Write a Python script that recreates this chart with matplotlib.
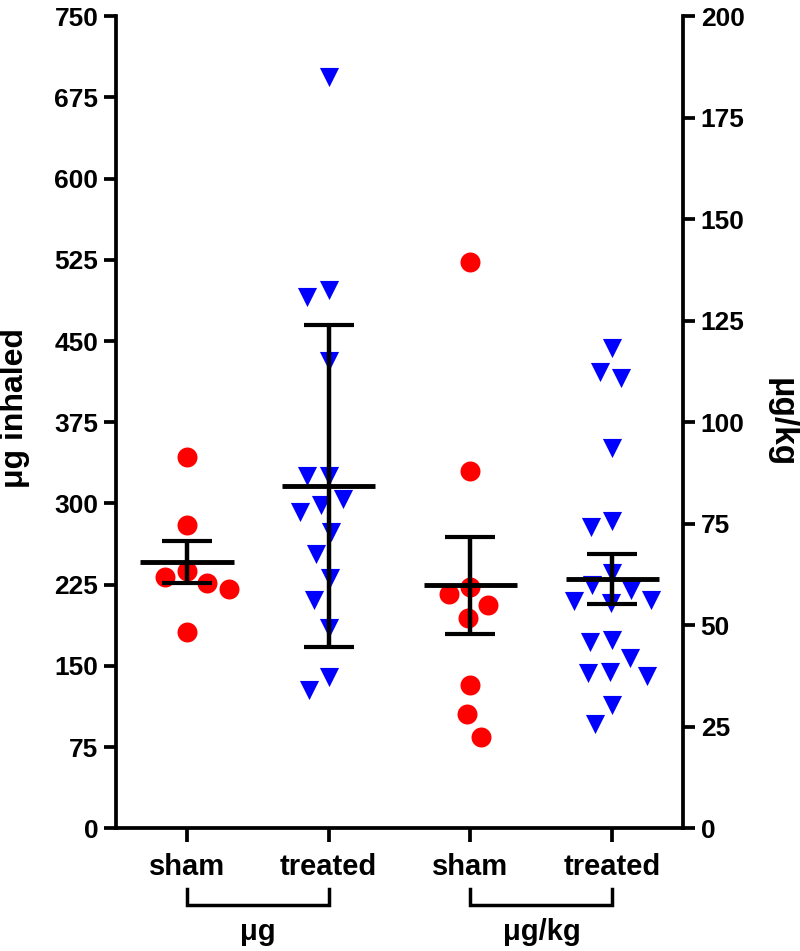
"""Dot plot of inhaled dose: sham vs treated, in ug (left axis) and ug/kg (right axis)."""

import matplotlib

matplotlib.use("Agg")
import matplotlib.pyplot as plt
import numpy as np

plt.rcParams["font.family"] = ["Liberation Sans", "DejaVu Sans"]
plt.rcParams["font.weight"] = "bold"

# Values
SHAM_UG = [343, 280, 238, 232, 227, 221, 181]
TREATED_UG = [694, 497, 491, 432, 325, 325, 304, 299, 292, 274, 253, 231,
              211, 185, 140, 128]
SHAM_UGKG = [139.4, 87.9, 59.5, 57.6, 54.9, 51.8, 35.4, 28.1, 22.4]
TREATED_UGKG = [118.4, 112.3, 110.8, 93.7, 75.6, 74.2, 62.9, 60, 58.8, 56.3,
                55.9, 55.5, 46.4, 46.0, 41.9, 38.6, 38.2, 37.4, 30.4, 25.8]

# mean line and error bar half-length, as drawn
MEANS = [246, 316, 59.8, 61.4]
ERRORS = [19.6, 148.5, 12.0, 6.15]

GROUP_LABELS = ["sham", "treated", "sham", "treated"]
UNIT_LABELS = ["\u03bcg", "\u03bcg/kg"]
LEFT_TICKS = np.arange(0, 751, 75)
RIGHT_TICKS = np.arange(0, 201, 25)


def swarm_x(ax, xc, values, dia_x, dia_y):
    """Greedy beeswarm in display pixels (elliptical footprint).

    Returns the x positions in data units.
    """
    values = np.asarray(values, dtype=float)
    ys = ax.transData.transform(
        np.column_stack([np.full(len(values), xc), values]))[:, 1]
    x0 = ax.transData.transform((xc, 0))[0]
    dxs = np.zeros(len(values))
    placed = []
    for i in np.argsort(values)[::-1]:
        y = ys[i]
        forbidden = []
        for dx, yp in placed:
            dy = abs(y - yp) * dia_x / dia_y
            if dy < dia_x:
                half = np.sqrt(dia_x ** 2 - dy ** 2)
                forbidden.append((dx - half, dx + half))
        cands = [0.0] + [a for a, _ in forbidden] + [b for _, b in forbidden]
        ok = [c for c in cands
              if all(not (a + 1e-6 < c < b - 1e-6) for a, b in forbidden)]
        best = min(ok, key=abs)
        dxs[i] = best
        placed.append((best, y))
    inv = ax.transData.inverted()
    return inv.transform(np.column_stack([x0 + dxs, ys]))[:, 0]


fig = plt.figure(figsize=(8, 9.51), dpi=100, facecolor="w")
ax = fig.add_axes([0.145, 0.129, 0.709, 0.854])
ax2 = ax.twinx()

ax.set_xlim(-0.5, 3.5)
ax.set_ylim(0, 750)
ax2.set_ylim(0, 200)
ax.set_yticks(LEFT_TICKS)
ax2.set_yticks(RIGHT_TICKS)
ax.set_xticks(range(len(GROUP_LABELS)))
ax.set_xticklabels(GROUP_LABELS)

for a in (ax, ax2):
    a.spines["top"].set_visible(False)
    for s in a.spines.values():
        s.set_linewidth(2.7)
ax.spines["right"].set_visible(False)
ax2.spines["left"].set_visible(False)
ax2.spines["bottom"].set_visible(False)

ax.tick_params(axis="y", direction="out", length=8.6, width=2.7,
               labelsize=19, pad=4)
ax2.tick_params(axis="y", direction="out", length=8.6, width=2.7,
                labelsize=19, pad=4)
ax.tick_params(axis="x", direction="out", length=10, width=2.7,
               labelsize=21, pad=8)

groups = [(ax, SHAM_UG, "o", "#ff0000", 207),
          (ax, TREATED_UG, "v", "#0000ff", 190),
          (ax2, SHAM_UGKG, "o", "#ff0000", 207),
          (ax2, TREATED_UGKG, "v", "#0000ff", 190)]

for i, (a, vals, mk, col, size) in enumerate(groups):
    xs = swarm_x(a, i, vals, 22, 30)
    a.scatter(xs, vals, marker=mk, s=size, color=col, linewidths=0, zorder=2)
    a.hlines(MEANS[i], i - 0.33, i + 0.33, color="k", lw=3.5, zorder=3)
    a.errorbar(i, MEANS[i], yerr=ERRORS[i], fmt="none", ecolor="k",
               elinewidth=3.2, capsize=18, capthick=3, zorder=3)

# brackets grouping the categories by unit
tr = ax.get_xaxis_transform()
for k, unit in enumerate(UNIT_LABELS):
    x0, x1 = 2 * k, 2 * k + 1
    ax.plot([x0, x0, x1, x1], [-0.075, -0.094, -0.094, -0.075], color="k",
            lw=2.5, transform=tr, clip_on=False, solid_joinstyle="miter")
    ax.text((x0 + x1) / 2, -0.128, unit, transform=tr, ha="center",
            va="center", fontsize=21, fontweight="bold")

fig.text(15 / 800, 1 - 408 / 951, "\u03bcg inhaled", rotation=90,
         ha="center", va="center", fontsize=23, fontweight="bold")
fig.text(781 / 800, 1 - 423 / 951, "\u03bcg/kg", rotation=270,
         ha="center", va="center", fontsize=24, fontweight="bold")

fig.savefig("out.png", dpi=100)
